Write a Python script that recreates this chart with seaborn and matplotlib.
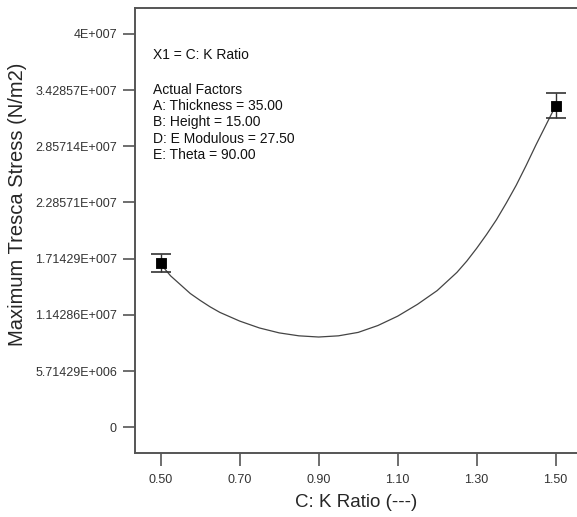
import numpy as np
import pandas as pd
import matplotlib
matplotlib.use("Agg")
import matplotlib.pyplot as plt
import seaborn as sns

# curve
k_ratio = [0.500, 0.525, 0.550, 0.575, 0.600, 0.625, 0.650, 0.700, 0.750, 0.800,
           0.850, 0.900, 0.950, 1.000, 1.050, 1.100, 1.150, 1.200, 1.250, 1.275,
           1.300, 1.325, 1.350, 1.375, 1.400, 1.425, 1.450, 1.475, 1.500]
stress = [1.66e7, 1.54e7, 1.45e7, 1.36e7, 1.29e7, 1.225e7, 1.168e7, 1.08e7,
          1.01e7, 0.96e7, 0.93e7, 0.918e7, 0.93e7, 0.965e7, 1.035e7, 1.13e7,
          1.25e7, 1.39e7, 1.575e7, 1.69e7, 1.82e7, 1.96e7, 2.11e7, 2.28e7,
          2.46e7, 2.66e7, 2.87e7, 3.07e7, 3.27e7]

# design points with error bars
pt_x = [0.5, 1.5]
pt_y = [1.673e7, 3.27e7]
pt_lo = [1.575e7, 3.146e7]
pt_hi = [1.764e7, 3.394e7]

x_ticks = [0.5, 0.7, 0.9, 1.1, 1.3, 1.5]
x_labels = ["0.50", "0.70", "0.90", "1.10", "1.30", "1.50"]
y_ticks = [0, 4e7 / 7, 8e7 / 7, 12e7 / 7, 16e7 / 7, 20e7 / 7, 24e7 / 7, 4e7]
y_labels = ["0", "5.71429E+006", "1.14286E+007", "1.71429E+007", "2.28571E+007",
            "2.85714E+007", "3.42857E+007", "4E+007"]

header = "X1 = C: K Ratio"
factors = ["Actual Factors", "A: Thickness = 35.00", "B: Height = 15.00",
           "D: E Modulous = 27.50", "E: Theta = 90.00"]

sns.set_theme(style="ticks")
plt.rcParams['font.family'] = ['Liberation Sans', 'DejaVu Sans']

fig = plt.figure(figsize=(5.77, 5.17), dpi=100)
ax = fig.add_axes([0.234, 0.124, 0.766, 0.86])

curve = pd.DataFrame({"x": k_ratio, "y": stress})
sns.lineplot(data=curve, x="x", y="y", ax=ax, color="#444444", lw=0.9)

yerr = [np.array(pt_y) - np.array(pt_lo), np.array(pt_hi) - np.array(pt_y)]
ax.errorbar(pt_x, pt_y, yerr=yerr, fmt="none", ecolor="#333333",
            elinewidth=1.0, capsize=7.5, capthick=1.2, zorder=3)
pts = pd.DataFrame({"x": pt_x, "y": pt_y})
sns.scatterplot(data=pts, x="x", y="y", ax=ax, marker="s", s=60,
                color="black", edgecolor="black", zorder=4)

ax.set_xlim(0.435, 1.554)
ax.set_ylim(-2.6e6, 4.26e7)
ax.set_xticks(x_ticks)
ax.set_xticklabels(x_labels)
ax.set_yticks(y_ticks)
ax.set_yticklabels(y_labels)
ax.tick_params(axis="both", length=9, width=1.2, color="#555555",
               labelsize=9, labelcolor="#333333")
ax.tick_params(axis="y", pad=4)
ax.tick_params(axis="x", pad=6)

for side in ["left", "bottom", "top"]:
    ax.spines[side].set_color("#555555")
    ax.spines[side].set_linewidth(1.4)
ax.spines["right"].set_visible(False)

ax.set_xlabel("C: K Ratio (---)", fontsize=13.5, labelpad=6)
ax.set_ylabel("Maximum Tresca Stress (N/m2)", fontsize=14.5)
ax.yaxis.set_label_coords(-0.244, 0.56)

# annotation block, positions in axes fraction
ax_h = 0.86 * 517
ax.text(0.041, (453 - 55) / ax_h, header, transform=ax.transAxes,
        fontsize=10, va="center", ha="left", color="#111111")
for i, line in enumerate(factors):
    ax.text(0.041, (453 - 90 - 16.3 * i) / ax_h, line, transform=ax.transAxes,
            fontsize=10, va="center", ha="left", color="#111111")

fig.savefig("out.png", dpi=100)
